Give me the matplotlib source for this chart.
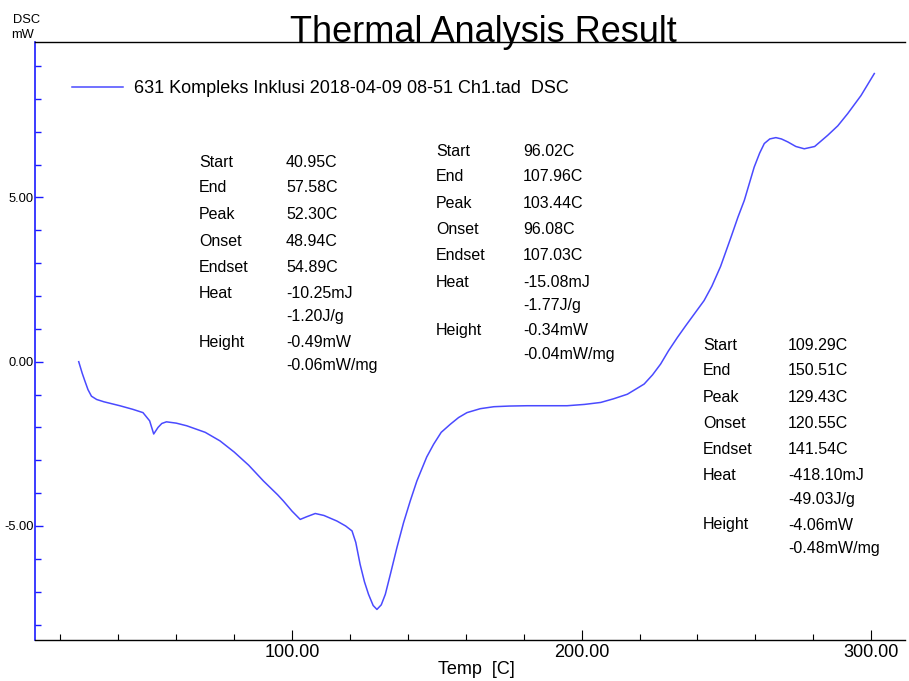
import numpy as np
import matplotlib
matplotlib.use('Agg')
import matplotlib.pyplot as plt
from matplotlib.ticker import MultipleLocator, FormatStrFormatter

plt.rcParams['font.family'] = ['Liberation Sans', 'DejaVu Sans']

#%% DSC trace (temperature in C, heat flow in mW)
temp = [26.3, 27.5, 28.4, 29.5, 30.7, 32.5, 35.0, 40.5, 45.0, 48.5,
        50.8, 52.2, 53.7, 55.0, 56.6, 60.0, 63.6, 70.0, 75.1, 80.0,
        85.0, 90.1, 95.0, 97.0, 100.0, 102.8, 105.0, 108.0, 111.0, 115.5,
        118.5, 120.7, 122.0, 123.5, 125.0, 126.4, 128.0, 129.3, 130.8, 132.2,
        134.0, 136.2, 138.5, 140.8, 143.1, 146.5, 148.9, 151.5, 154.7, 157.5,
        160.4, 165.0, 169.7, 175.0, 181.2, 188.0, 195.0, 201.0, 206.6, 211.0,
        215.8, 219.0, 221.6, 224.5, 227.3, 230.0, 233.1, 236.0, 238.9, 242.3,
        245.0, 248.0, 251.6, 254.0, 256.2, 259.6, 261.5, 263.1, 265.0, 267.1,
        269.0, 271.2, 274.0, 276.9, 280.5, 285.0, 288.5, 291.9, 296.5, 301.1]
dsc = [0.00, -0.35, -0.58, -0.85, -1.05, -1.15, -1.22, -1.34, -1.45, -1.55,
       -1.80, -2.20, -2.00, -1.88, -1.83, -1.87, -1.95, -2.15, -2.41, -2.75,
       -3.15, -3.63, -4.05, -4.24, -4.55, -4.80, -4.72, -4.62, -4.68, -4.85,
       -5.00, -5.15, -5.50, -6.17, -6.70, -7.08, -7.42, -7.54, -7.40, -7.08,
       -6.45, -5.66, -4.90, -4.24, -3.63, -2.90, -2.51, -2.15, -1.90, -1.70,
       -1.55, -1.43, -1.37, -1.35, -1.34, -1.34, -1.34, -1.30, -1.24, -1.13,
       -0.99, -0.82, -0.68, -0.40, -0.07, 0.33, 0.74, 1.10, 1.45, 1.86,
       2.30, 2.90, 3.79, 4.40, 4.91, 5.92, 6.35, 6.64, 6.78, 6.82,
       6.78, 6.69, 6.55, 6.48, 6.55, 6.89, 7.18, 7.55, 8.10, 8.77]

legend_label = '631 Kompleks Inklusi 2018-04-09 08-51 Ch1.tad  DSC'

# peak analysis results, one block per peak
row_names = ['Start', 'End', 'Peak', 'Onset', 'Endset', 'Heat', '', 'Height', '']
peak1 = ['40.95C', '57.58C', '52.30C', '48.94C', '54.89C',
         '-10.25mJ', '-1.20J/g', '-0.49mW', '-0.06mW/mg']
peak2 = ['96.02C', '107.96C', '103.44C', '96.08C', '107.03C',
         '-15.08mJ', '-1.77J/g', '-0.34mW', '-0.04mW/mg']
peak3 = ['109.29C', '150.51C', '129.43C', '120.55C', '141.54C',
         '-418.10mJ', '-49.03J/g', '-4.06mW', '-0.48mW/mg']

#%% figure
W, H = 909, 681
fig = plt.figure(figsize=(W / 100, H / 100), dpi=100)
ax = fig.add_axes([35 / W, 1 - 640 / H, 870 / W, 598 / H])

line_col = '#4a4aff'
axis_blue = '#1a1aff'
ax.plot(temp, dsc, color=line_col, lw=1.1, label=legend_label)

ax.set_xlim(11.2, 311.7)
ax.set_ylim(-8.47, 9.73)

ax.xaxis.set_major_locator(MultipleLocator(100))
ax.xaxis.set_minor_locator(MultipleLocator(20))
ax.yaxis.set_major_locator(MultipleLocator(5))
ax.yaxis.set_minor_locator(MultipleLocator(1))
ax.xaxis.set_major_formatter(FormatStrFormatter('%.2f'))
ax.yaxis.set_major_formatter(FormatStrFormatter('%.2f'))

ax.spines['right'].set_visible(False)
ax.spines['left'].set_color(axis_blue)
ax.spines['left'].set_linewidth(1.2)
ax.spines['top'].set_linewidth(1.0)
ax.spines['bottom'].set_linewidth(1.0)

ax.tick_params(axis='x', which='major', direction='in', length=7, width=0.8,
               labelsize=13, pad=3)
ax.tick_params(axis='x', which='minor', direction='in', length=4.5, width=0.8)
ax.tick_params(axis='y', which='major', direction='in', length=6, width=1.0,
               color=axis_blue, labelsize=9.3, pad=1)
ax.tick_params(axis='y', which='minor', direction='in', length=4, width=1.0,
               color=axis_blue)

ax.set_xlabel('Temp  [C]', fontsize=13, labelpad=1)
ax.xaxis.set_label_coords(476 / W, 1 - 670 / H, transform=fig.transFigure)
ax.xaxis.label.set_va('center')

# axis unit in the top left corner
fig.text(13 / W, 1 - 20 / H, 'DSC', fontsize=9.3, va='center', ha='left')
fig.text(11 / W, 1 - 35 / H, 'mW', fontsize=9.3, va='center', ha='left')

fig.text(483 / W, 1 - 41.5 / H, 'Thermal Analysis Result', fontsize=26,
         ha='center', va='baseline')

ax.legend(loc='upper left', bbox_to_anchor=(72 / W, 1 - 80 / H),
          bbox_transform=fig.transFigure, frameon=False, fontsize=13,
          handlelength=2.8, handletextpad=0.65, borderpad=0, borderaxespad=0)

# result tables
row_offsets = [0, 25.5, 52, 78.5, 105, 131, 154.5, 180, 203]


def draw_block(x_name, x_val, y_top, values):
    for dy, name, val in zip(row_offsets, row_names, values):
        y = 1 - (y_top + dy + 5.5) / H
        if name:
            fig.text(x_name / W, y, name, fontsize=11.5, va='baseline')
        fig.text(x_val / W, y, val, fontsize=11.5, va='baseline')


draw_block(199, 286, 161.5, peak1)
draw_block(436, 523, 150, peak2)
draw_block(703, 788, 344, peak3)

fig.savefig('out.png', dpi=100)
